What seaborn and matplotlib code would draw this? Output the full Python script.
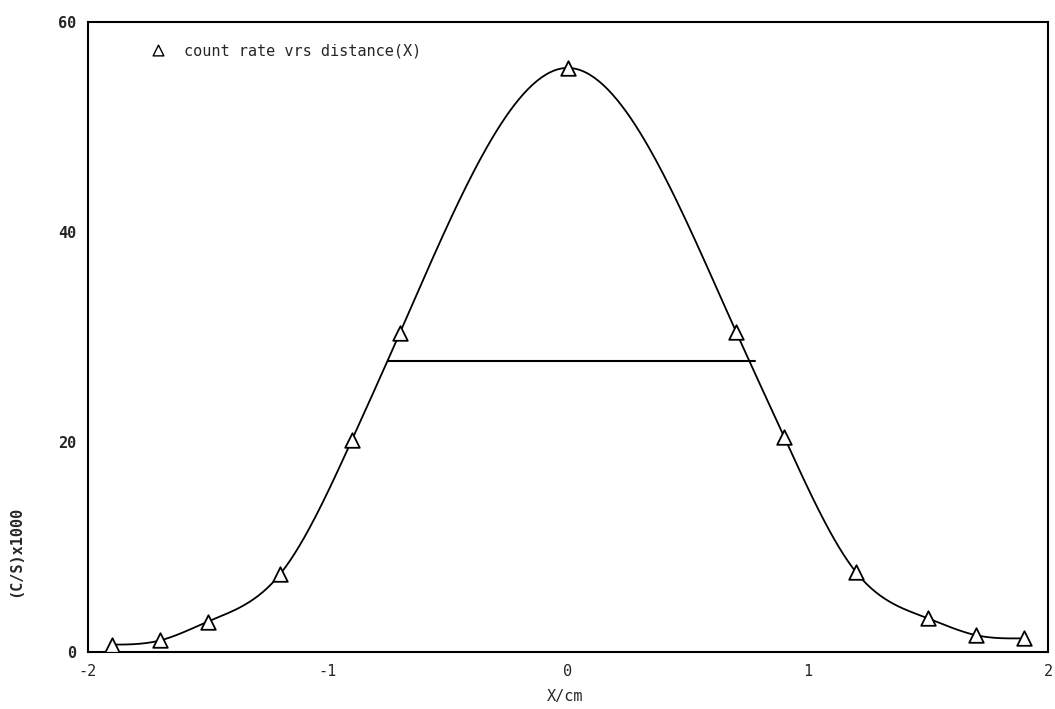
import numpy as np
import pandas as pd
import matplotlib
matplotlib.use("Agg")
import matplotlib.pyplot as plt
import seaborn as sns

# ---- data ----
x_cm = [-1.9, -1.7, -1.5, -1.2, -0.9, -0.7, 0.0, 0.7, 0.9, 1.2, 1.5, 1.7, 1.9]
count_rate = [0.7, 1.1, 2.9, 7.4, 20.2, 30.4, 55.6, 30.5, 20.5, 7.6, 3.2, 1.6, 1.3]
half_max_level = 27.7
half_max_x = [-0.75, 0.78]
x_ticks = [-2, -1, 0, 1, 2]
x_tick_labels = ["-2", "-1", "0", "1", "2"]
y_ticks = [0, 20, 40, 60]
y_tick_labels = ["0", "20", "40", "60"]
legend_label = "count rate vrs distance(X)"


def natural_spline(xk, yk, xs):
    xk = np.asarray(xk, float); yk = np.asarray(yk, float)
    n = len(xk)
    h = np.diff(xk)
    A = np.zeros((n, n)); b = np.zeros(n)
    A[0, 0] = 1; A[-1, -1] = 1
    for i in range(1, n - 1):
        A[i, i - 1] = h[i - 1]
        A[i, i] = 2 * (h[i - 1] + h[i])
        A[i, i + 1] = h[i]
        b[i] = 3 * ((yk[i + 1] - yk[i]) / h[i] - (yk[i] - yk[i - 1]) / h[i - 1])
    c = np.linalg.solve(A, b)
    out = np.empty_like(xs)
    for j, xv in enumerate(xs):
        i = min(max(np.searchsorted(xk, xv) - 1, 0), n - 2)
        dx = xv - xk[i]
        bb = (yk[i + 1] - yk[i]) / h[i] - h[i] * (2 * c[i] + c[i + 1]) / 3
        d = (c[i + 1] - c[i]) / (3 * h[i])
        out[j] = yk[i] + bb * dx + c[i] * dx ** 2 + d * dx ** 3
    return out


sns.set_style("white")
plt.rcParams["font.family"] = ["DejaVu Sans Mono", "DejaVu Sans"]

fig = plt.figure(figsize=(10.55, 7.09), dpi=100)
ax = fig.add_axes([0.0834, 0.0804, 0.910, 0.889])

xs = np.linspace(min(x_cm), max(x_cm), 400)
curve = pd.DataFrame({"x": xs, "y": natural_spline(x_cm, count_rate, xs)})
pts = pd.DataFrame({"x": x_cm, "y": count_rate})

sns.lineplot(data=curve, x="x", y="y", ax=ax, color="black", lw=1.3, sort=False)
sns.scatterplot(data=pts, x="x", y="y", ax=ax, marker="^", s=110,
                facecolor="white", edgecolor="black", linewidth=1.3, zorder=5)
ax.plot(half_max_x, [half_max_level, half_max_level], color="black", lw=1.5)

ax.set_xlim(-2, 2)
ax.set_ylim(0, 60)
ax.set_xticks(x_ticks)
ax.set_xticklabels(x_tick_labels, fontsize=11)
ax.set_yticks(y_ticks)
ax.set_yticklabels(y_tick_labels, fontsize=11, fontweight="bold")
ax.tick_params(axis="both", direction="out", length=5, width=1.2, color="black")
for s in ax.spines.values():
    s.set_color("black"); s.set_linewidth(1.5)

ax.set_xlabel("X/cm", fontsize=11)
ax.set_ylabel("(C/S)x1000", fontsize=11, fontweight="bold")
ax.xaxis.set_label_coords(0.497, -0.058)
ax.yaxis.set_label_coords(-0.068, 0.16)

# legend-like annotation at top left
ax.scatter([-1.71], [57.3], marker="^", s=60, facecolor="white",
           edgecolor="black", linewidth=1.0, zorder=6)
ax.text(-1.6, 57.2, legend_label, fontsize=11, va="center", ha="left")

fig.savefig("out.png", dpi=100, facecolor="white")
